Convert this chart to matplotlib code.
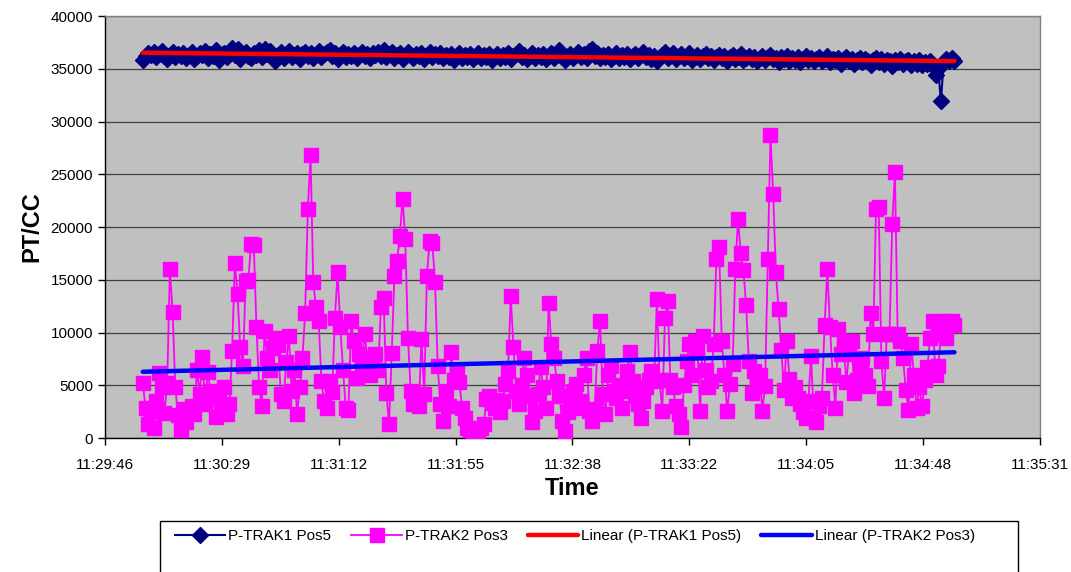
import numpy as np
import matplotlib.pyplot as plt
from matplotlib.patches import Rectangle

plt.rcParams['font.family'] = ['Liberation Sans', 'DejaVu Sans']

# one reading per second, starting 11:30:00
pos5 = [
    35800, 36200, 36500, 36300, 36600, 36100, 36400, 36700, 36200, 35900,
    36300, 36600, 36100, 36400, 36200, 36500, 36000, 36300, 36600, 35900,
    36200, 36500, 36300, 36700, 36000, 36400, 36200, 36800, 35800, 36300,
    36500, 36100, 36600, 37000, 36300, 36900, 35900, 36400, 36600, 36200,
    36000, 36500, 36300, 36800, 36100, 36900, 36400, 36700, 36200, 35700,
    36300, 36600, 36000, 36400, 36700, 36100, 36300, 36500, 35900, 36400,
    36600, 36200, 36500, 36000, 36300, 36700, 36100, 36400, 36600, 36800,
    36200, 36500, 35900, 36300, 36600, 36100, 36400, 36200, 36500, 36000,
    36300, 36600, 36200, 36400, 36000, 36500, 36300, 36600, 36200, 36800,
    36100, 36400, 36600, 36000, 36300, 36500, 35900, 36200, 36600, 36300,
    36000, 36400, 36200, 36500, 35900, 36300, 36600, 36100, 36400, 36200,
    36500, 36000, 36300, 36100, 36400, 35800, 36200, 36500, 36000, 36300,
    36100, 36400, 35900, 36200, 36500, 36000, 36300, 36100, 36400, 35800,
    36200, 36400, 36000, 36300, 36100, 36500, 35900, 36200, 36400, 36700,
    36100, 36300, 35900, 36200, 36500, 36000, 36300, 36100, 36400, 35900,
    36200, 36500, 36000, 36300, 36800, 36100, 35800, 36200, 36400, 36000,
    36300, 36600, 36100, 36400, 36000, 36700, 36900, 36200, 36500, 36000,
    36300, 36100, 36400, 35900, 36200, 36500, 36000, 36300, 36100, 36400,
    35900, 36200, 36400, 36000, 36300, 36600, 36100, 36300, 35900, 36200,
    35700, 36100, 36300, 36600, 36000, 36200, 36500, 35900, 36200, 36400,
    36000, 36200, 36500, 35800, 36100, 36300, 35900, 36200, 36400, 36000,
    36200, 35800, 36100, 36300, 36000, 36200, 35700, 36100, 36300, 35900,
    36100, 36400, 35800, 36000, 36200, 35900, 36100, 35700, 36000, 36200,
    35800, 36100, 36300, 35900, 36000, 35600, 36100, 35900, 36200, 35700,
    36000, 35800, 36100, 35600, 35900, 36200, 35800, 36000, 35700, 35900,
    36100, 35700, 35900, 36200, 35600, 35900, 35800, 36000, 35500, 35900,
    36100, 35700, 35900, 35500, 35800, 36000, 35600, 35900, 35700, 35400,
    35800, 36000, 35600, 35900, 35500, 35800, 35700, 35300, 35800, 35600,
    35900, 35500, 35700, 35800, 35400, 35700, 35500, 35800, 35400, 35600,
    35500, 35700, 35300, 34400, 35000, 31900, 35600, 35900, 35700, 36000,
    35700,
]

pos3 = [
    5200, 2900, 1300, 2600, 1000, 3500, 6200, 4800, 2400, 5200,
    16000, 12000, 4800, 2200, 800, 2800, 1500, 2500, 3000, 2300,
    6500, 4200, 7700, 3200, 6300, 4500, 3800, 2000, 4000, 3000,
    4800, 2300, 3200, 8300, 16600, 13700, 8600, 6800, 14900, 15000,
    18400, 18300, 10500, 4800, 3000, 10200, 7600, 6500, 8500, 9500,
    8800, 4200, 3500, 7200, 9700, 4500, 6500, 2300, 4800, 7600,
    11900, 21700, 26800, 14800, 12400, 11100, 5400, 3500, 2900, 5400,
    4400, 11400, 15700, 10500, 6500, 2900, 2700, 11100, 9200, 5700,
    8000, 7000, 9900, 7600, 6000, 7000, 8000, 6500, 12400, 13300,
    4300, 1300, 8100, 15400, 16800, 19200, 22700, 18900, 9500, 4500,
    3200, 3500, 3000, 9400, 4200, 15400, 18700, 18500, 14800, 6800,
    3200, 1600, 4500, 3000, 8200, 5500, 6400, 5300, 2900, 1900,
    1000, 800, 500, 600, 700, 1000, 1300, 3700, 4000, 3300,
    2900, 3600, 2500, 3500, 5100, 6400, 13500, 8600, 4500, 3200,
    5000, 7600, 6000, 4000, 1500, 2600, 4200, 6700, 4800, 2900,
    12800, 8900, 7600, 5400, 4000, 1600, 700, 2500, 3800, 4500,
    5100, 2900, 3500, 6000, 7600, 2600, 1600, 2800, 8300, 11100,
    4200, 2300, 6000, 6800, 4500, 3800, 5000, 2900, 4500, 6400,
    8200, 5400, 4000, 3200, 1900, 3500, 4800, 5500, 6400, 5400,
    13200, 5500, 2600, 11400, 13000, 5500, 4800, 3000, 2300, 1100,
    5000, 7300, 8900, 6000, 9200, 8500, 2600, 9700, 6500, 4800,
    5400, 8900, 17000, 18100, 9200, 6000, 2600, 5100, 7000, 16000,
    20800, 17500, 15900, 12600, 7300, 4300, 6400, 5000, 6000, 2600,
    4900, 17000, 28700, 23100, 15700, 12200, 8400, 4600, 9200, 5600,
    3800, 4800, 3800, 3200, 2500, 1900, 3500, 7800, 1900, 1500,
    3000, 3800, 10700, 16000, 10500, 6000, 2900, 10300, 8000, 9200,
    5300, 8000, 9200, 4300, 5500, 6700, 7600, 6000, 4900, 11900,
    9900, 21700, 21900, 7300, 3800, 9900, 9900, 20300, 25200, 9900,
    9200, 7600, 4600, 2700, 8900, 6000, 2900, 4800, 3000, 5500,
    6700, 9500, 11100, 6000, 6800, 9900, 11100, 9500, 11000, 11100,
    10700,
]

time_labels = ["11:29:46", "11:30:29", "11:31:12", "11:31:55", "11:32:38",
               "11:33:22", "11:34:05", "11:34:48", "11:35:31"]

# time in seconds of the day
start = 11 * 3600 + 30 * 60
secs = start + np.arange(len(pos3))
axis_min = 11 * 3600 + 29 * 60 + 46
step = 43.2  # 0.0005 day
ticks = axis_min + step * np.arange(len(time_labels))

fig = plt.figure(figsize=(10.71, 5.72), dpi=100)
ax = fig.add_axes([0.098, 0.234, 0.873, 0.738])
ax.set_facecolor('#c0c0c0')

ax.plot(secs, pos5, color='#000080', marker='D', ms=8, lw=1.5,
        label='P-TRAK1 Pos5', zorder=3)
ax.plot(secs, pos3, color='#ff00ff', marker='s', ms=10, lw=1.3,
        mec='#ff00ff', mfc='#ff00ff', label='P-TRAK2 Pos3', zorder=3)

# linear trend lines
x_rel = secs - secs[0]
k5 = np.polyfit(x_rel, pos5, 1)
k3 = np.polyfit(x_rel, pos3, 1)
ax.plot(secs, np.polyval(k5, x_rel), color='#ff0000', lw=3.2,
        label='Linear (P-TRAK1 Pos5)', zorder=4, solid_capstyle='round')
ax.plot(secs, np.polyval(k3, x_rel), color='#0000ff', lw=3.2,
        label='Linear (P-TRAK2 Pos3)', zorder=4, solid_capstyle='round')

ax.set_xlim(axis_min, axis_min + step * 8)
ax.set_ylim(0, 40000)
ax.set_xticks(ticks)
ax.set_xticklabels(time_labels)
ax.set_yticks(range(0, 40001, 5000))
ax.yaxis.grid(True, color='#404040', lw=0.9)
ax.set_axisbelow(True)
ax.tick_params(direction='out', length=5, width=1, labelsize=11, color='black')
ax.tick_params(axis='x', pad=9)

for s in ['left', 'bottom']:
    ax.spines[s].set_color('black')
    ax.spines[s].set_linewidth(1)
for s in ['top', 'right']:
    ax.spines[s].set_color('#808080')
    ax.spines[s].set_linewidth(1)

ax.set_ylabel('PT/CC', fontsize=17, fontweight='bold', labelpad=5)
ax.set_xlabel('Time', fontsize=17, fontweight='bold', labelpad=4)

# legend box along the bottom
fig.patches.append(Rectangle((160 / 1071, -0.05), 858 / 1071, 0.05 + 51 / 572,
                             transform=fig.transFigure, facecolor='white',
                             edgecolor='black', lw=1, zorder=0))
handles, labels = ax.get_legend_handles_labels()
fig.legend(handles, labels, ncol=4, loc='upper left',
           bbox_to_anchor=(175 / 1071, 1 - 529 / 572), frameon=False,
           fontsize=11, numpoints=1, handlelength=3.3, handletextpad=0.2,
           columnspacing=1.3, borderpad=0, borderaxespad=0)

fig.savefig('out.png', dpi=100, facecolor='white')
